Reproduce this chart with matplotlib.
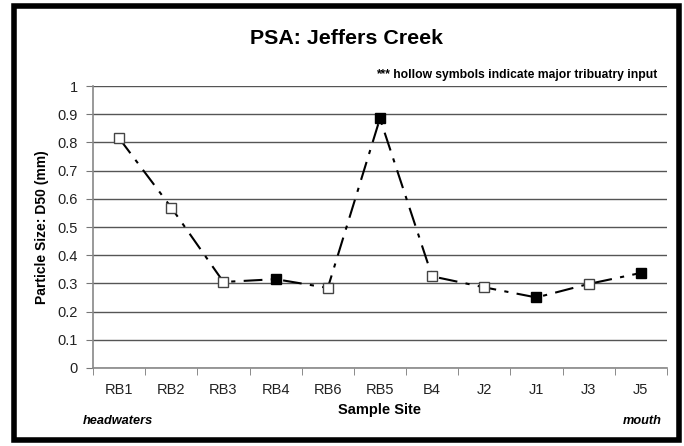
import matplotlib
matplotlib.use("Agg")
import matplotlib.pyplot as plt
from matplotlib.patches import Rectangle
import numpy as np

sites = ["RB1", "RB2", "RB3", "RB4", "RB6", "RB5", "B4", "J2", "J1", "J3", "J5"]
d50 = [0.815, 0.569, 0.305, 0.315, 0.284, 0.885, 0.325, 0.286, 0.250, 0.298, 0.337]
hollow = [True, True, True, False, True, False, True, True, False, True, False]
yticks = [0, 0.1, 0.2, 0.3, 0.4, 0.5, 0.6, 0.7, 0.8, 0.9, 1]

plt.rcParams['font.family'] = ['Liberation Sans', 'DejaVu Sans']
narrow = ['Liberation Sans Narrow', 'Liberation Sans', 'DejaVu Sans']

fig = plt.figure(figsize=(6.84, 4.46), dpi=100)
ax = fig.add_axes([0.136, 0.175, 0.839, 0.632])

x = np.arange(len(sites))
ax.plot(x, d50, color='black', lw=1.5, linestyle=(0, (9, 4, 2, 4)), zorder=3)
for xi, yi, h in zip(x, d50, hollow):
    if h:
        ax.plot(xi, yi, marker='s', ms=6.5, mfc='white', mec='#444444', mew=1.0, zorder=4)
    else:
        ax.plot(xi, yi, marker='s', ms=6.5, mfc='black', mec='black', mew=1.0, zorder=4)

ax.set_xlim(-0.5, len(sites) - 0.5)
ax.set_ylim(0, 1)
ax.set_yticks(yticks)
ax.set_yticklabels([f"{t:g}" for t in yticks], fontsize=10.5, color='#222222')
ax.set_xticks(x)
ax.set_xticklabels(sites, fontsize=10.5, color='#222222')
ax.set_xticks(np.arange(-0.5, len(sites), 1.0), minor=True)
ax.tick_params(axis='x', which='major', length=0, pad=11)
ax.tick_params(axis='x', which='minor', length=5, color='#777777', direction='out')
ax.tick_params(axis='y', length=5, color='#777777', direction='out', pad=6)

ax.grid(axis='y', color='#555555', lw=1.0)
ax.set_axisbelow(True)
for s in ['top', 'right']:
    ax.spines[s].set_visible(False)
for s in ['left', 'bottom']:
    ax.spines[s].set_color('#888888')
    ax.spines[s].set_linewidth(1.2)

ax.set_ylabel("Particle Size: D50 (mm)", fontsize=10, fontweight='bold', labelpad=6)
ax.set_xlabel("Sample Site", fontsize=10.5, fontweight='bold', labelpad=4)

fig.text(0.506, 0.913, "PSA: Jeffers Creek", ha='center', va='center',
         fontsize=15.4, fontweight='bold')
fig.text(0.961, 0.832, "*** hollow symbols indicate major tribuatry input", ha='right',
         va='center', fontsize=8.7, fontweight='bold', family=narrow)
fig.text(0.121, 0.056, "headwaters", ha='left', va='center', fontsize=9.2,
         fontweight='bold', style='italic', family=narrow)
fig.text(0.968, 0.056, "mouth", ha='right', va='center', fontsize=9.2,
         fontweight='bold', style='italic', family=narrow)

# outer frame
fig.patches.append(Rectangle((14/684, 6/446), (679-14)/684, (440-6)/446,
                             transform=fig.transFigure, fill=False,
                             edgecolor='black', lw=4, zorder=10))

fig.savefig("out.png", dpi=100)
